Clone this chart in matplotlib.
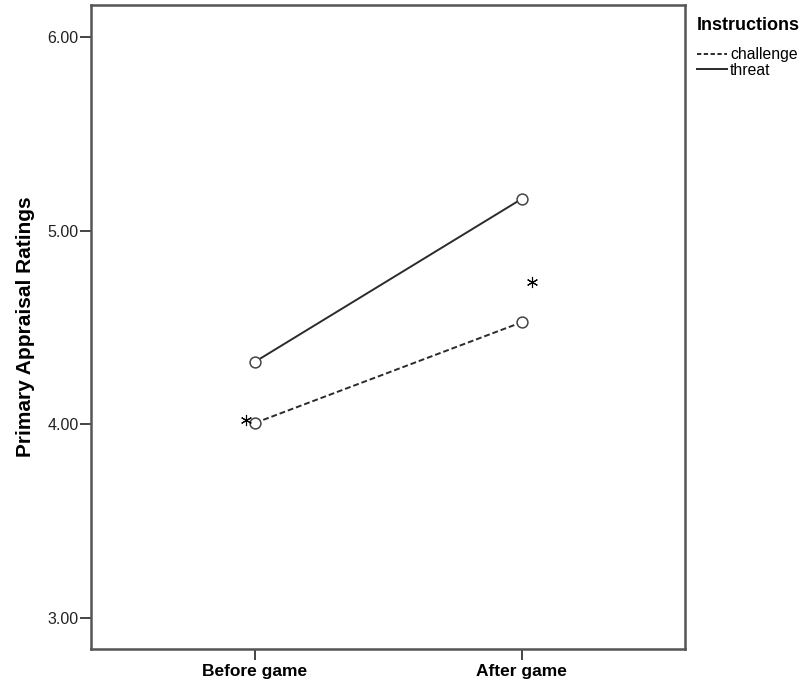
import matplotlib.pyplot as plt
from matplotlib.lines import Line2D
import numpy as np

plt.rcParams['font.family'] = ['Liberation Sans', 'DejaVu Sans']

# Mean primary appraisal ratings by time and instruction condition
time_points = ["Before game", "After game"]
challenge = [4.007, 4.527]
threat = [4.323, 5.164]

# significance markers (x position, y position)
star_x = [-0.035, 1.037]
star_y = [4.02, 4.733]

fig = plt.figure(figsize=(8.06, 6.81), dpi=100)
ax = fig.add_axes([0.1129, 0.047, 0.737, 0.9457])

x = np.arange(len(time_points))
line_color = "#2b2b2b"
dash = (0, (3, 1.5))
ax.plot(x, challenge, linestyle=dash, color=line_color, linewidth=1.4,
        marker="o", markersize=7.8, markerfacecolor="white",
        markeredgecolor="#444444", markeredgewidth=1.1)
ax.plot(x, threat, linestyle="-", color=line_color, linewidth=1.4,
        marker="o", markersize=7.8, markerfacecolor="white",
        markeredgecolor="#444444", markeredgewidth=1.1)

# six-armed asterisks
ax.plot(star_x, star_y, linestyle="none", marker=(6, 2, 0), markersize=8,
        markeredgewidth=0.8, color="black")

ax.set_xlim(-0.615, 1.612)
ax.set_ylim(2.84, 6.165)
ax.set_xticks(x)
ax.set_xticklabels(time_points, fontsize=12.5, fontweight="bold")
ax.set_yticks([3, 4, 5, 6])
ax.set_yticklabels(["3.00", "4.00", "5.00", "6.00"], fontsize=11.5, color="#222222")
ax.tick_params(axis="both", direction="out", length=8, width=1.4, color="#444444", pad=1)
ax.tick_params(axis="x", pad=3)

for spine in ax.spines.values():
    spine.set_color("#555555")
    spine.set_linewidth(1.8)

ax.set_ylabel("Primary Appraisal Ratings", fontsize=15, fontweight="bold")
ax.yaxis.set_label_coords(-0.0935, 0.5)

# legend: bold title plus line-only handles
fig.text(697 / 806, 1 - 25 / 681, "Instructions", fontsize=13, fontweight="bold",
         ha="left", va="center")
handles = [Line2D([], [], color=line_color, linestyle=(0, (2.2, 1.3)), linewidth=1.4),
           Line2D([], [], color=line_color, linestyle="-", linewidth=1.4)]
fig.legend(handles, ["challenge", "threat"], loc="upper left",
           bbox_to_anchor=(697 / 806, 1 - 47 / 681), frameon=False,
           fontsize=11.3, handlelength=1.9, handletextpad=0.2,
           labelspacing=0.05, borderaxespad=0, borderpad=0)

fig.savefig("out.png", dpi=100)
